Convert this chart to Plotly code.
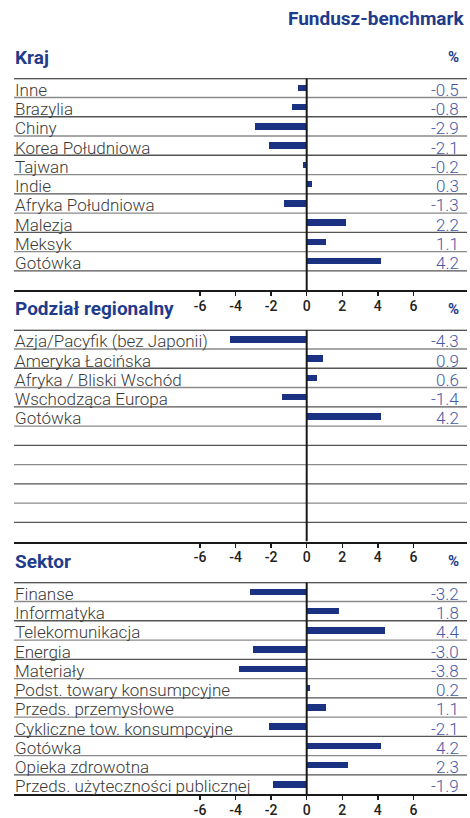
import plotly.graph_objects as go

# ---------------- data ----------------
kraj_labels = ["Inne", "Brazylia", "Chiny", "Korea Południowa", "Tajwan", "Indie",
               "Afryka Południowa", "Malezja", "Meksyk", "Gotówka"]
kraj_values = [-0.5, -0.8, -2.9, -2.1, -0.2, 0.3, -1.3, 2.2, 1.1, 4.2]

region_labels = ["Azja/Pacyfik (bez Japonii)", "Ameryka Łacińska", "Afryka / Bliski Wschód",
                 "Wschodząca Europa", "Gotówka"]
region_values = [-4.3, 0.9, 0.6, -1.4, 4.2]

sektor_labels = ["Finanse", "Informatyka", "Telekomunikacja", "Energia", "Materiały",
                 "Podst. towary konsumpcyjne", "Przeds. przemysłowe",
                 "Cykliczne tow. konsumpcyjne", "Gotówka", "Opieka zdrowotna",
                 "Przeds. użyteczności publicznej"]
sektor_values = [-3.2, 1.8, 4.4, -3.0, -3.8, 0.2, 1.1, -2.1, 4.2, 2.3, -1.9]

panel_titles = ["Kraj", "Podział regionalny", "Sektor"]
tick_values = [-6, -4, -2, 0, 2, 4, 6]
tick_labels = ["-6", "-4", "-2", "0", "2", "4", "6"]
header_text = "Fundusz-benchmark"
unit_text = "%"

# ---------------- layout constants ----------------
W, H = 470, 818
LEFT, RIGHT = 14, 467
ZERO_PX = 306.7
PX_PER_UNIT = 17.78
ROW_H = 19.45
N_ROWS = 11
PANEL_TOPS = [79, 333, 588]

BAR_COLOR = "#1b3282"
TITLE_COLOR = "#1f3c8c"
VALUE_COLOR = "#4658a8"
LABEL_COLOR = "#3a3a3a"
FONT = "Roboto, 'Open Sans', sans-serif"

def py(p):
    return 1 - p / H

def px(p):
    return p / W

xmin = -(ZERO_PX - LEFT) / PX_PER_UNIT
xmax = (RIGHT - ZERO_PX) / PX_PER_UNIT

panels = [(kraj_labels, kraj_values), (region_labels, region_values), (sektor_labels, sektor_values)]

fig = go.Figure()
shapes = []
annotations = []

for i, ((labels, values), top) in enumerate(zip(panels, PANEL_TOPS)):
    n = i + 1
    xa = "x" if n == 1 else f"x{n}"
    ya = "y" if n == 1 else f"y{n}"
    bottom = top + N_ROWS * ROW_H
    ypos = [k + 0.5 for k in range(len(values))]
    fig.add_trace(go.Bar(
        x=values, y=ypos, orientation="h", xaxis=xa, yaxis=ya,
        marker=dict(color=BAR_COLOR, line=dict(width=0)), width=0.34,
        showlegend=False, hoverinfo="skip",
    ))
    axis_kw = dict(
        domain=[px(LEFT), px(RIGHT)], range=[xmin, xmax],
        showgrid=False, zeroline=False, showline=True, linecolor="#1a1a1a", linewidth=2,
        ticks="outside", ticklen=4, tickwidth=1.5, tickcolor="#1a1a1a",
        tickvals=tick_values, ticktext=tick_labels, ticklabelstandoff=-2,
        tickfont=dict(family=FONT, size=14, color="#222222", weight=500),
        anchor=ya, side="bottom", fixedrange=True,
    )
    yaxis_kw = dict(
        domain=[py(bottom), py(top)], range=[N_ROWS, 0],
        showgrid=False, zeroline=False, showline=False, showticklabels=False,
        anchor=xa, fixedrange=True,
    )
    fig.update_layout(**{("xaxis" if n == 1 else f"xaxis{n}"): axis_kw,
                         ("yaxis" if n == 1 else f"yaxis{n}"): yaxis_kw})

    # horizontal row lines
    for r in range(N_ROWS):
        color = "#1a1a1a" if r == 0 else ("#555555" if r % 2 == 0 else "#8a8a8a")
        width = 2 if r == 0 else 1.3
        shapes.append(dict(type="line", xref="paper", yref=ya, x0=px(LEFT), x1=px(RIGHT),
                           y0=r, y1=r, line=dict(color=color, width=width), layer="below"))
    # zero line
    shapes.append(dict(type="line", xref=xa, yref=ya, x0=0, x1=0, y0=0, y1=N_ROWS,
                       line=dict(color="#1a1a1a", width=2)))

    # labels and values
    for k, (lab, val) in enumerate(zip(labels, values)):
        annotations.append(dict(text=lab, xref="paper", yref=ya, x=px(LEFT - 1), y=k + 0.6,
                                xanchor="left", yanchor="middle", showarrow=False,
                                font=dict(family=FONT, size=17, color=LABEL_COLOR, weight=300)))
        annotations.append(dict(text=f"{val:.1f}", xref="paper", yref=ya, x=px(461), y=k + 0.6,
                                xanchor="right", yanchor="middle", showarrow=False,
                                font=dict(family=FONT, size=17, color=VALUE_COLOR, weight=300)))

    # panel title and unit
    title_y = top - 21
    annotations.append(dict(text=f"<b>{panel_titles[i]}</b>", xref="paper", yref="paper",
                            x=px(LEFT - 1), y=py(title_y), xanchor="left", yanchor="middle",
                            showarrow=False, font=dict(family=FONT, size=19, color=TITLE_COLOR)))
    annotations.append(dict(text=f"<b>{unit_text}</b>", xref="paper", yref="paper",
                            x=px(461), y=py(title_y), xanchor="right", yanchor="middle",
                            showarrow=False, font=dict(family=FONT, size=15, color=TITLE_COLOR)))

annotations.append(dict(text=f"<b>{header_text}</b>", xref="paper", yref="paper",
                        x=px(466), y=py(19), xanchor="right", yanchor="middle",
                        showarrow=False, font=dict(family=FONT, size=19, color=TITLE_COLOR)))

fig.update_layout(
    width=W, height=H, margin=dict(l=0, r=0, t=0, b=0),
    paper_bgcolor="white", plot_bgcolor="rgba(0,0,0,0)",
    shapes=shapes, annotations=annotations, bargap=0,
)

fig.write_html(
    "out.html",
    config={"displayModeBar": False, "staticPlot": True},
    post_script="document.body.style.margin='0';document.body.style.padding='0';"
                "document.documentElement.style.overflow='hidden';",
)
